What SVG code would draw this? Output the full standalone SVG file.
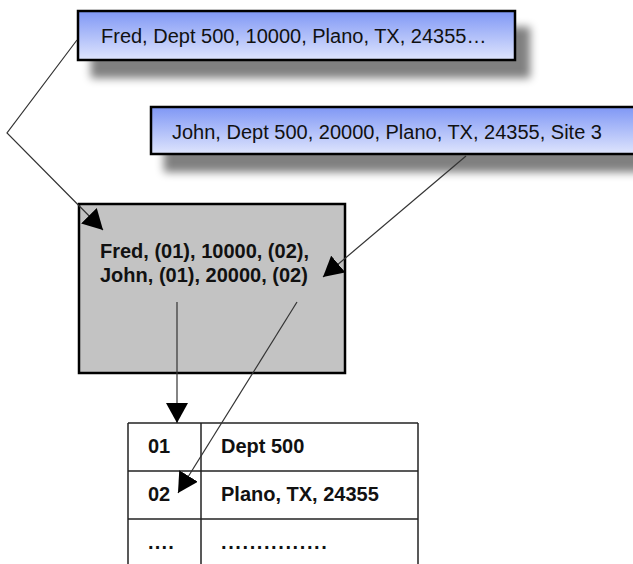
<svg xmlns="http://www.w3.org/2000/svg" width="633" height="564" viewBox="0 0 633 564">
<style>
.t{font-family:"Liberation Sans",Arial,sans-serif;font-size:20px;fill:#111}
.b{font-weight:bold}
.rec{fill:url(#blue);stroke:#000;stroke-width:2.5}
.conn{fill:none;stroke:#333;stroke-width:1.2}
.tbl{stroke:#222;stroke-width:1.5;fill:none}
</style>
<defs>
<linearGradient id="blue" x1="0" y1="0" x2="0" y2="1">
<stop offset="0" stop-color="#7f97f5"/>
<stop offset="1" stop-color="#dfe5fd"/>
</linearGradient>
<filter id="shadow" x="-10%" y="-30%" width="130%" height="200%">
<feGaussianBlur in="SourceAlpha" stdDeviation="4.5"/>
<feOffset dx="14" dy="17" result="o"/>
<feComponentTransfer><feFuncA type="linear" slope="0.5"/></feComponentTransfer>
<feMerge><feMergeNode/><feMergeNode in="SourceGraphic"/></feMerge>
</filter>
<marker id="arr" markerUnits="userSpaceOnUse" markerWidth="20" markerHeight="22" viewBox="0 0 20 22" refX="20" refY="11" orient="auto">
<path d="M0,0 L20,11 L0,22 z" fill="#000"/>
</marker>
</defs>

<g id="fred-record">
<rect class="rec" x="78" y="11" width="437" height="49" filter="url(#shadow)"/>
<text class="t" x="101" y="43">Fred, Dept 500, 10000, Plano, TX, 24355…</text>
</g>

<g id="john-record">
<rect class="rec" x="151" y="107" width="495" height="47" filter="url(#shadow)"/>
<text class="t" x="172" y="139">John, Dept 500, 20000, Plano, TX, 24355, Site 3</text>
</g>

<g id="compressed">
<rect x="79" y="204" width="266" height="169" fill="#c3c3c3" stroke="#000" stroke-width="2.5"/>
<text class="t b" x="100" y="258">Fred, (01), 10000, (02),</text>
<text class="t b" x="100" y="282">John, (01), 20000, (02)</text>
</g>

<g id="dictionary">
<line class="tbl" x1="128" y1="423" x2="418" y2="423"/>
<line class="tbl" x1="128" y1="471" x2="418" y2="471"/>
<line class="tbl" x1="128" y1="519" x2="418" y2="519"/>
<line class="tbl" x1="128" y1="423" x2="128" y2="566"/>
<line class="tbl" x1="201" y1="423" x2="201" y2="566"/>
<line class="tbl" x1="418" y1="423" x2="418" y2="566"/>
<text class="t b" x="148" y="453">01</text>
<text class="t b" x="221" y="453">Dept 500</text>
<text class="t b" x="148" y="501">02</text>
<text class="t b" x="221" y="501">Plano, TX, 24355</text>
<text class="t b" x="148" y="549" letter-spacing="1.2">....</text>
<text class="t b" x="221" y="549" letter-spacing="1.6">...............</text>
</g>

<g id="connectors">
<polyline class="conn" points="77,40 7,133 103,230" marker-end="url(#arr)"/>
<line class="conn" x1="466" y1="156" x2="323" y2="277" marker-end="url(#arr)"/>
<line class="conn" x1="177" y1="302" x2="177" y2="423" marker-end="url(#arr)"/>
<line class="conn" x1="297" y1="302" x2="178" y2="493" marker-end="url(#arr)"/>
</g>
</svg>
